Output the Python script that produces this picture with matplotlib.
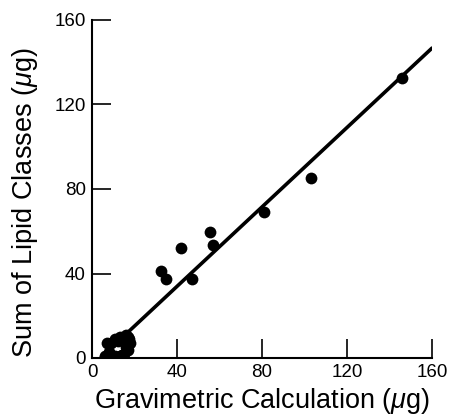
import matplotlib
matplotlib.use("Agg")
import matplotlib.pyplot as plt

# Data
grav_x = [146, 103, 81, 55.5, 57, 42, 32.5, 35, 47,
          6, 10, 14, 7, 9, 13, 17, 16, 18, 6, 11, 15, 17.5,
          8, 12, 15, 17, 13, 9, 16, 11]
lipid_y = [132.5, 85, 69, 59.5, 53.5, 52, 41, 37.5, 37.5,
           0.5, 0.5, 1.5, 7, 7, 10, 10, 5, 7, 1, 1, 2, 9,
           3, 8, 8, 4, 1, 1.5, 11, 9]
fit_x = [10, 160]
fit_y = [5.7, 146.7]
ticks = [0, 40, 80, 120, 160]

plt.rcParams['font.family'] = ['Liberation Sans', 'DejaVu Sans']
plt.rcParams['mathtext.fontset'] = 'custom'
plt.rcParams['mathtext.rm'] = 'Liberation Sans'
plt.rcParams['mathtext.it'] = 'Liberation Sans:italic'

fig = plt.figure(figsize=(4.54, 4.18), dpi=100)
ax = fig.add_axes([92/454, 60/418, 340/454, 338/418])

ax.plot(fit_x, fit_y, color='black', lw=2.6, solid_capstyle='round', zorder=2)
ax.scatter(grav_x, lipid_y, s=72, color='black', zorder=3, linewidths=0)

ax.set_xlim(0, 160)
ax.set_ylim(0, 160)
ax.set_xticks(ticks)
ax.set_yticks(ticks)
ax.spines['top'].set_visible(False)
ax.spines['right'].set_visible(False)
for s in ('left', 'bottom'):
    ax.spines[s].set_linewidth(1.5)
ax.tick_params(direction='in', length=14, width=1.2, labelsize=13.5, pad=4.5)
for lab in ax.get_xticklabels() + ax.get_yticklabels():
    lab.set_clip_on(False)
for line in ax.get_xticklines() + ax.get_yticklines():
    line.set_clip_on(False)

ax.set_xlabel(r'Gravimetric Calculation ($\mu$g)', fontsize=19.5, labelpad=3.5)
ax.set_ylabel(r'Sum of Lipid Classes ($\mu$g)', fontsize=19.5, labelpad=10)
ax.yaxis.label.set_y(0.46)

fig.savefig('out.png', dpi=100)
